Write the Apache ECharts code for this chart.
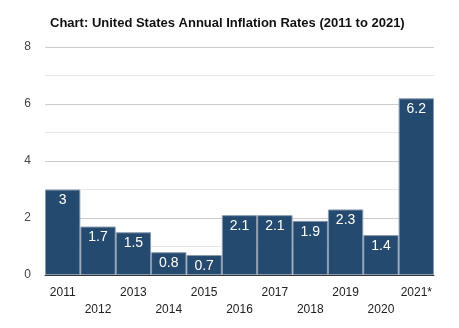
<!DOCTYPE html>
<html><head><meta charset="utf-8">
<script src="https://cdn.jsdelivr.net/npm/echarts@6/dist/echarts.min.js"></script>
<style>html,body{margin:0;padding:0;background:#fff}#c{width:459px;height:328px}</style>
</head><body><div id="c"></div>
<script>
const categories = ['2011','2012','2013','2014','2015','2016','2017','2018','2019','2020','2021*'];
const values = [3, 1.7, 1.5, 0.8, 0.7, 2.1, 2.1, 1.9, 2.3, 1.4, 6.2];
const yTicks = [0, 2, 4, 6, 8];
const chart = echarts.init(document.getElementById('c'), null, {renderer:'canvas'});
chart.setOption({
  animation:false,
  title:{text:'Chart: United States Annual Inflation Rates (2011 to 2021)', left:45, top:12,
    textStyle:{fontFamily:'Arial, Liberation Sans', fontSize:13, fontWeight:'bold', color:'#111'}},
  grid:{left:45, right:25, top:47, bottom:53},
  xAxis:{type:'category', data:categories,
    axisLine:{lineStyle:{color:'#333', width:1}}, axisTick:{show:false},
    axisLabel:{interval:0, margin:9, fontFamily:'Arial, Liberation Sans', fontSize:12, color:'#222', lineHeight:17,
      formatter:(v,i)=> i%2===1 ? '\n'+v : v}},
  yAxis:{type:'value', min:yTicks[0], max:yTicks[yTicks.length-1], interval:2,
    axisLine:{show:false}, axisTick:{show:false},
    axisLabel:{margin:14, fontFamily:'Arial, Liberation Sans', fontSize:12, color:'#444'},
    splitLine:{lineStyle:{color:'#cccccc'}},
    minorTick:{show:false, splitNumber:2},
    minorSplitLine:{show:true, lineStyle:{color:'#e8e8e8'}}},
  series:[{type:'bar', data:values, barCategoryGap:'0%',
    itemStyle:{color:'#244a6f', borderColor:'#8a9bb0', borderWidth:1},
    label:{show:true, position:'insideTop', distance:4, color:'#fff', fontWeight:'normal',
      fontFamily:'Arial, Liberation Sans', fontSize:14}}]
});
</script></body></html>
